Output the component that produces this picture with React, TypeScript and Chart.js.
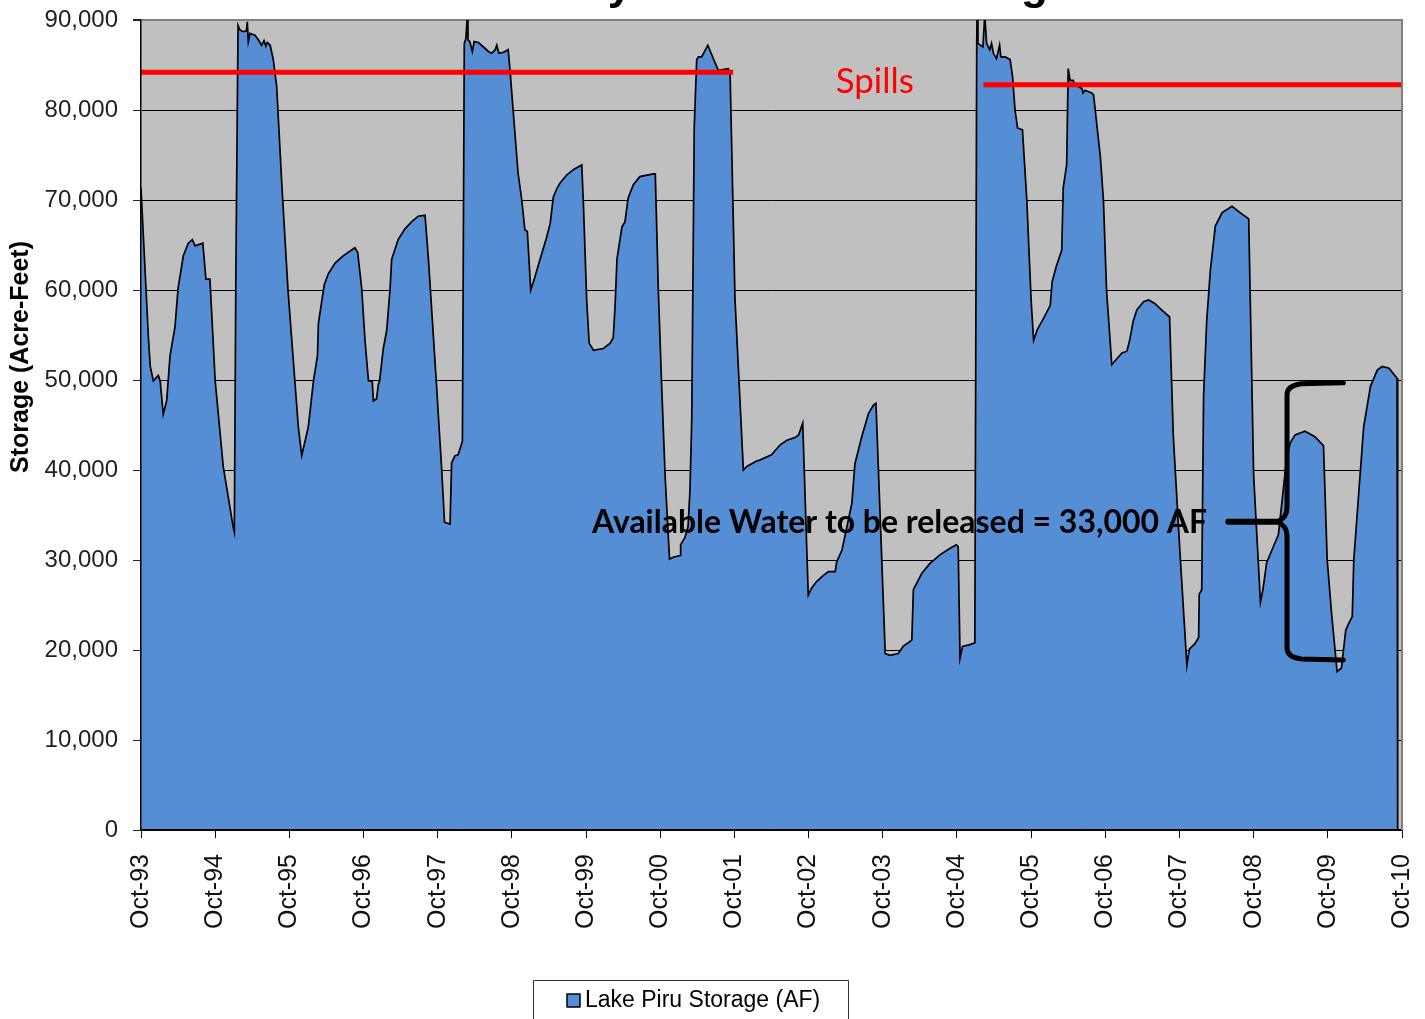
import React, { useEffect, useRef } from 'react';
import { Chart, registerables } from 'chart.js';

Chart.register(...registerables);

// X tick labels (one per year, every 12 months from Oct-93)
const tickLabels = [
  'Oct-93', 'Oct-94', 'Oct-95', 'Oct-96', 'Oct-97', 'Oct-98', 'Oct-99', 'Oct-00', 'Oct-01',
  'Oct-02', 'Oct-03', 'Oct-04', 'Oct-05', 'Oct-06', 'Oct-07', 'Oct-08', 'Oct-09', 'Oct-10',
];

// Months elapsed since Oct-93 for each storage reading
const monthsSinceOct93 = [
  0, 1.2, 1.5, 2.0, 2.8, 3.1, 3.6, 4.15, 4.7, 5.5, 6.0, 6.85, 7.65, 8.3, 8.75, 10.0, 10.5, 11.15,
  12.0, 13.3, 14.9, 15.1, 15.35, 15.7, 16.0, 16.55, 17.05, 17.2, 17.36, 17.63, 18.44, 18.98, 19.5,
  19.9, 20.2, 20.45, 20.9, 21.4, 21.95, 22.8, 23.8, 25.45, 26.0, 27.07, 27.9, 28.55, 28.7, 29.65,
  30.3, 31.4, 32.7, 34.6, 35.05, 35.7, 36.25, 36.8, 37.4, 37.6, 38.1, 38.4, 38.6, 39.2, 39.75, 40.3,
  40.55, 41.6, 42.7, 43.8, 44.85, 45.95, 46.5, 47.8, 48.65, 49.1, 50.0, 50.25, 50.8, 51.3, 52.0,
  52.3, 52.55, 52.8, 52.9, 53.2, 53.6, 53.9, 54.6, 55.4, 56.2, 56.75, 57.3, 57.55, 57.9, 58.6, 59.4,
  59.7, 60.2, 61.0, 61.6, 62.1, 62.5, 63.05, 63.7, 64.55, 65.6, 66.2, 66.7, 67.3, 67.8, 68.9, 70.0,
  71.3, 71.55, 72.1, 72.5, 73.2, 74.8, 75.9, 76.4, 76.7, 77.0, 77.8, 78.3, 78.8, 79.65, 80.7, 82.9,
  83.2, 83.7, 84.2, 84.8, 85.5, 86.1, 87.2, 87.3, 88.0, 88.5, 88.8, 89.1, 89.5, 89.9, 90.2, 90.7,
  91.7, 92.6, 93.4, 95.0, 95.3, 96.1, 97.45, 98.0, 99.6, 100.1, 102.0, 103.4, 104.5, 105.8, 106.4,
  107.05, 107.95, 108.5, 109.3, 110.4, 111.2, 112.3, 112.55, 113.4, 114.2, 115.0, 115.5, 116.6,
  117.7, 118.5, 118.9, 120.4, 121.2, 122.5, 123.3, 124.7, 124.95, 126.3, 127.6, 129.3, 130.9,
  131.9, 132.2, 132.5, 132.9, 134.1, 134.9, 135.2, 135.25, 135.4, 136.2, 136.5, 136.8, 137.3,
  137.6, 137.9, 138.4, 138.9, 139.1, 139.8, 140.6, 141.0, 141.4, 141.8, 142.6, 143.3, 144.0, 144.4,
  145.0, 145.9, 147.1, 147.4, 148.1, 148.95, 149.2, 149.75, 150.0, 150.3, 150.8, 151.1, 152.2,
  152.4, 152.7, 153.8, 154.1, 155.2, 155.7, 156.2, 157.05, 157.8, 158.7, 159.5, 160.0, 160.5,
  161.1, 162.2, 163.0, 164.0, 165.1, 166.4, 167.0, 168.1, 169.2, 169.6, 170.5, 171.1, 171.2,
  171.6, 171.9, 172.4, 173.0, 173.8, 174.9, 176.5, 177.8, 179.2, 180.0, 181.1, 181.5, 182.1,
  183.2, 184.0, 184.7, 185.3, 185.9, 186.7, 188.3, 189.9, 191.3, 191.9, 192.6, 193.5, 194.2,
  194.9, 195.4, 195.95, 196.2, 197.0, 197.8, 198.9, 200.0, 200.8, 201.9, 203.2, 203.3,
];

// Lake Piru storage (acre-feet) at each of the months above
const storageAF = [
  71300, 54700, 51500, 49900, 50500, 49900, 46200, 47700, 52700, 55900, 60200, 63800, 65200, 65600, 64900, 65200, 61200, 61200,
  49900, 40400, 33700, 33100, 62000, 89400, 88900, 88700, 88800, 89800, 87600, 88500, 88300, 87800, 87200,
  87700, 87100, 87500, 87200, 85600, 82600, 71500, 59800, 44800, 41600, 44800, 49900, 52700, 56300, 60600,
  61800, 63000, 63800, 64700, 64200, 60200, 54300, 49900, 49900, 47700, 47900, 49500, 49900, 53500, 55500, 60200,
  63400, 65600, 66800, 67600, 68200, 68300, 63400, 49500, 40000, 34200, 34000, 40800, 41600, 41700, 43200,
  87400, 87900, 90500, 87800, 87600, 86500, 87600, 87500, 87000, 86500, 86300, 86700, 87200, 86300, 86400, 86700,
  84400, 80000, 73000, 70000, 66700, 66500, 60000, 61400, 63400, 65800, 67400, 70300, 71300, 71900, 72800, 73400,
  73900, 70000, 58900, 54100, 53300, 53500, 54100, 54700, 58300, 63400, 67000, 67600, 70200, 71700, 72600, 72900,
  72900, 59800, 49900, 39200, 30100, 30300, 30500, 31700, 32500, 33700, 37600, 45600, 78000, 85600, 85900, 85900,
  87200, 85700, 84400, 84600, 84100, 58900, 40000, 40400, 41000, 41100, 41700, 42800, 43300, 43600, 43900,
  45200, 26100, 26900, 27600, 28300, 28700, 28700, 29800, 31100, 33700, 36300, 40700, 43700,
  46300, 47200, 47400, 19600, 19400, 19600, 20400, 21100, 26700, 28500, 29600, 30600, 31300,
  31700, 31500, 19100, 20400, 20600, 20800, 87400, 90500, 87400, 87000, 90500, 87400, 86700,
  87400, 86300, 85700, 87200, 85900, 85900, 85600, 83700, 80000, 78000, 77800, 70000, 58900, 54400,
  55600, 56700, 58300, 60900, 62700, 64400, 71400, 73900, 84600, 83300, 83300, 82800, 82400,
  81900, 82200, 81900, 81700, 74800, 70000, 60000, 51700, 52300, 53000, 53200, 54600, 56500,
  57800, 58700, 58900, 58500, 57800, 57000, 43800, 30600, 18300, 20100, 20700, 21400, 26200,
  26700, 48200, 56500, 62200, 67100, 68600, 69300, 68600, 67900, 39400, 25300, 26700, 29700,
  31500, 32800, 37200, 41100, 43000, 43900, 44300, 43700, 42700, 30000, 24100, 17600, 18000,
  22200, 23000, 23700, 30000, 37400, 44800, 49300, 51100, 51500, 51300, 50200, 0,
];

// Spill levels (acre-feet) and the month spans where they are marked
const spillLevels = [84200, 82800];
const spillSpans = [
  [0, 95.8],
  [136.3, 204],
];

const yTicksMax = 90000;
const yTickStep = 10000;

const titleText = 'History of Lake Piru Storage';
const yAxisTitle = 'Storage (Acre-Feet)';
const spillsLabel = 'Spills';
const annotationText = 'Available Water to be released = 33,000 AF';
const legendLabel = 'Lake Piru Storage (AF)';

const FILL = '#558ED5';

export default function App() {
  const canvasRef = useRef<HTMLCanvasElement | null>(null);

  useEffect(() => {
    document.body.style.margin = '0';
    const canvas = canvasRef.current;
    if (!canvas) return;

    const storagePoints = monthsSinceOct93.map((m, i) => ({ x: m, y: storageAF[i] }));
    const spillDatasets = spillLevels.map((lvl, i) => ({
      label: 'Spill ' + (i + 1),
      data: spillSpans[i].map((m) => ({ x: m, y: lvl })),
      borderColor: '#FF0000',
      borderWidth: 5,
      borderCapStyle: 'butt' as const,
      pointRadius: 0,
      fill: false,
      order: 0,
    }));

    const decorPlugin = {
      id: 'decor',
      beforeDraw(chart: any) {
        const { ctx, chartArea } = chart;
        ctx.save();
        ctx.fillStyle = '#ffffff';
        ctx.fillRect(0, 0, chart.width, chart.height);
        ctx.fillStyle = '#C0C0C0';
        ctx.fillRect(chartArea.left, chartArea.top, chartArea.right - chartArea.left, chartArea.bottom - chartArea.top);
        ctx.restore();
      },
      afterDraw(chart: any) {
        const { ctx, chartArea } = chart;
        const xs = chart.scales.x;
        const ys = chart.scales.y;
        const px = (m: number) => xs.getPixelForValue(m);
        const py = (v: number) => ys.getPixelForValue(v);
        ctx.save();

        // right plot border (gray)
        ctx.strokeStyle = '#808080';
        ctx.lineWidth = 2;
        ctx.beginPath();
        ctx.moveTo(chartArea.right, chartArea.top - 1);
        ctx.lineTo(chartArea.right, chartArea.bottom);
        ctx.stroke();

        // Title (only descenders visible above the chart)
        ctx.fillStyle = '#000';
        ctx.font = 'bold 44px "Liberation Sans", Arial, sans-serif';
        ctx.textBaseline = 'alphabetic';
        ctx.textAlign = 'left';
        const pre = ctx.measureText('Histor').width + ctx.measureText('y').width / 2;
        ctx.fillText(titleText, 620 - pre, -1);

        // Y axis title
        ctx.save();
        ctx.translate(21, 357);
        ctx.rotate(-Math.PI / 2);
        ctx.font = 'bold 25px "Liberation Sans", Arial, sans-serif';
        ctx.textAlign = 'center';
        ctx.textBaseline = 'middle';
        ctx.fillStyle = '#000';
        ctx.fillText(yAxisTitle, 0, 0);
        ctx.restore();

        const drawFitted = (text: string, font: string, color: string, left: number, baseline: number, width: number) => {
          ctx.save();
          ctx.font = font;
          ctx.fillStyle = color;
          ctx.textAlign = 'left';
          ctx.textBaseline = 'alphabetic';
          const w = ctx.measureText(text).width;
          ctx.translate(left, baseline);
          ctx.scale(width / w, 1);
          ctx.fillText(text, 0, 0);
          ctx.restore();
        };
        drawFitted(spillsLabel, '35px Lato, "Open Sans", sans-serif', '#FF0000', px(112.4), py(81900), 78);
        drawFitted(annotationText, 'bold 32px Lato, "Open Sans", sans-serif', '#000', px(72.97), py(33000), 615);

        // Brace
        const bx = px(185.4);
        const bRight = px(194.5);
        const tip = px(184.3);
        const leadL = px(175.9);
        const yTop = py(49700);
        const yBot = py(18900);
        const yMid = py(34250);
        ctx.strokeStyle = '#000';
        ctx.lineWidth = 5;
        ctx.lineCap = 'round';
        ctx.lineJoin = 'round';
        ctx.beginPath();
        ctx.moveTo(bRight, yTop);
        ctx.lineTo(bx + 14, yTop + 1);
        ctx.quadraticCurveTo(bx, yTop + 3, bx, yTop + 12);
        ctx.lineTo(bx, yMid - 14);
        ctx.quadraticCurveTo(bx, yMid - 4, tip - 3, yMid);
        ctx.quadraticCurveTo(bx, yMid + 4, bx, yMid + 14);
        ctx.lineTo(bx, yBot - 12);
        ctx.quadraticCurveTo(bx, yBot - 3, bx + 14, yBot - 1);
        ctx.lineTo(bRight, yBot);
        ctx.stroke();
        ctx.lineWidth = 6;
        ctx.beginPath();
        ctx.moveTo(leadL, yMid);
        ctx.lineTo(tip - 4, yMid);
        ctx.stroke();

        // Legend
        ctx.lineCap = 'butt';
        ctx.lineWidth = 1;
        ctx.strokeStyle = '#333';
        ctx.strokeRect(533.5, 980.5, 315, 60);
        ctx.fillStyle = FILL;
        ctx.fillRect(567, 994, 13, 13);
        ctx.strokeStyle = '#000';
        ctx.lineWidth = 1.5;
        ctx.strokeRect(567, 994, 13, 13);
        ctx.fillStyle = '#000';
        ctx.font = '23px "Liberation Sans", Arial, sans-serif';
        ctx.textAlign = 'left';
        ctx.textBaseline = 'middle';
        ctx.fillText(legendLabel, 585, 1001);

        ctx.restore();
      },
    };

    const chart = new Chart(canvas, {
      type: 'line',
      data: {
        datasets: [
          {
            label: legendLabel,
            data: storagePoints,
            borderColor: '#000',
            borderWidth: 1.7,
            backgroundColor: FILL,
            fill: 'origin',
            pointRadius: 0,
            tension: 0,
            order: 1,
          },
          ...spillDatasets,
        ],
      },
      options: {
        animation: false,
        responsive: false,
        devicePixelRatio: 1,
        layout: { padding: { left: 0, right: 23, top: 20, bottom: 0 } },
        plugins: {
          legend: { display: false },
          title: { display: false },
          tooltip: { enabled: false },
        },
        scales: {
          x: {
            type: 'linear',
            min: 0,
            max: 204,
            afterFit: (scale: any) => {
              scale.height = 189;
              scale.paddingLeft = 0;
              scale.paddingRight = 0;
              scale.paddingTop = 0;
              scale.paddingBottom = 0;
            },
            grid: {
              drawOnChartArea: false,
              drawTicks: true,
              tickLength: 8,
              tickColor: '#000',
            },
            border: { display: true, color: '#000', width: 1.5, z: 1 },
            ticks: {
              stepSize: 12,
              autoSkip: false,
              maxRotation: 90,
              minRotation: 90,
              padding: 16,
              color: '#111',
              font: { family: '"Liberation Sans", Arial, sans-serif', size: 25 },
              callback: (v: any) => tickLabels[Math.round(Number(v) / 12)] ?? '',
            },
          },
          y: {
            type: 'linear',
            min: 0,
            max: yTicksMax,
            afterFit: (scale: any) => {
              scale.width = 141;
              scale.paddingLeft = 0;
              scale.paddingRight = 0;
              scale.paddingTop = 0;
              scale.paddingBottom = 0;
            },
            grid: {
              color: (c: any) => (c.tick && c.tick.value === yTicksMax ? '#808080' : '#000'),
              lineWidth: (c: any) => (c.tick && c.tick.value === yTicksMax ? 2 : 1),
              tickLength: 8,
              tickColor: '#222',
            },
            border: { display: true, color: '#000', width: 1.5, z: 1 },
            ticks: {
              stepSize: yTickStep,
              padding: 15,
              color: '#222',
              font: { family: '"Liberation Sans", Arial, sans-serif', size: 24 },
              callback: (v: any) => Number(v).toLocaleString('en-US'),
            },
          },
        },
      },
      plugins: [decorPlugin],
    });

    return () => {
      chart.destroy();
    };
  }, []);

  return (
    <div style={{ width: 1425, height: 1019, overflow: 'hidden' }}>
      <canvas ref={canvasRef} width={1425} height={1019} style={{ display: 'block' }} />
    </div>
  );
}
